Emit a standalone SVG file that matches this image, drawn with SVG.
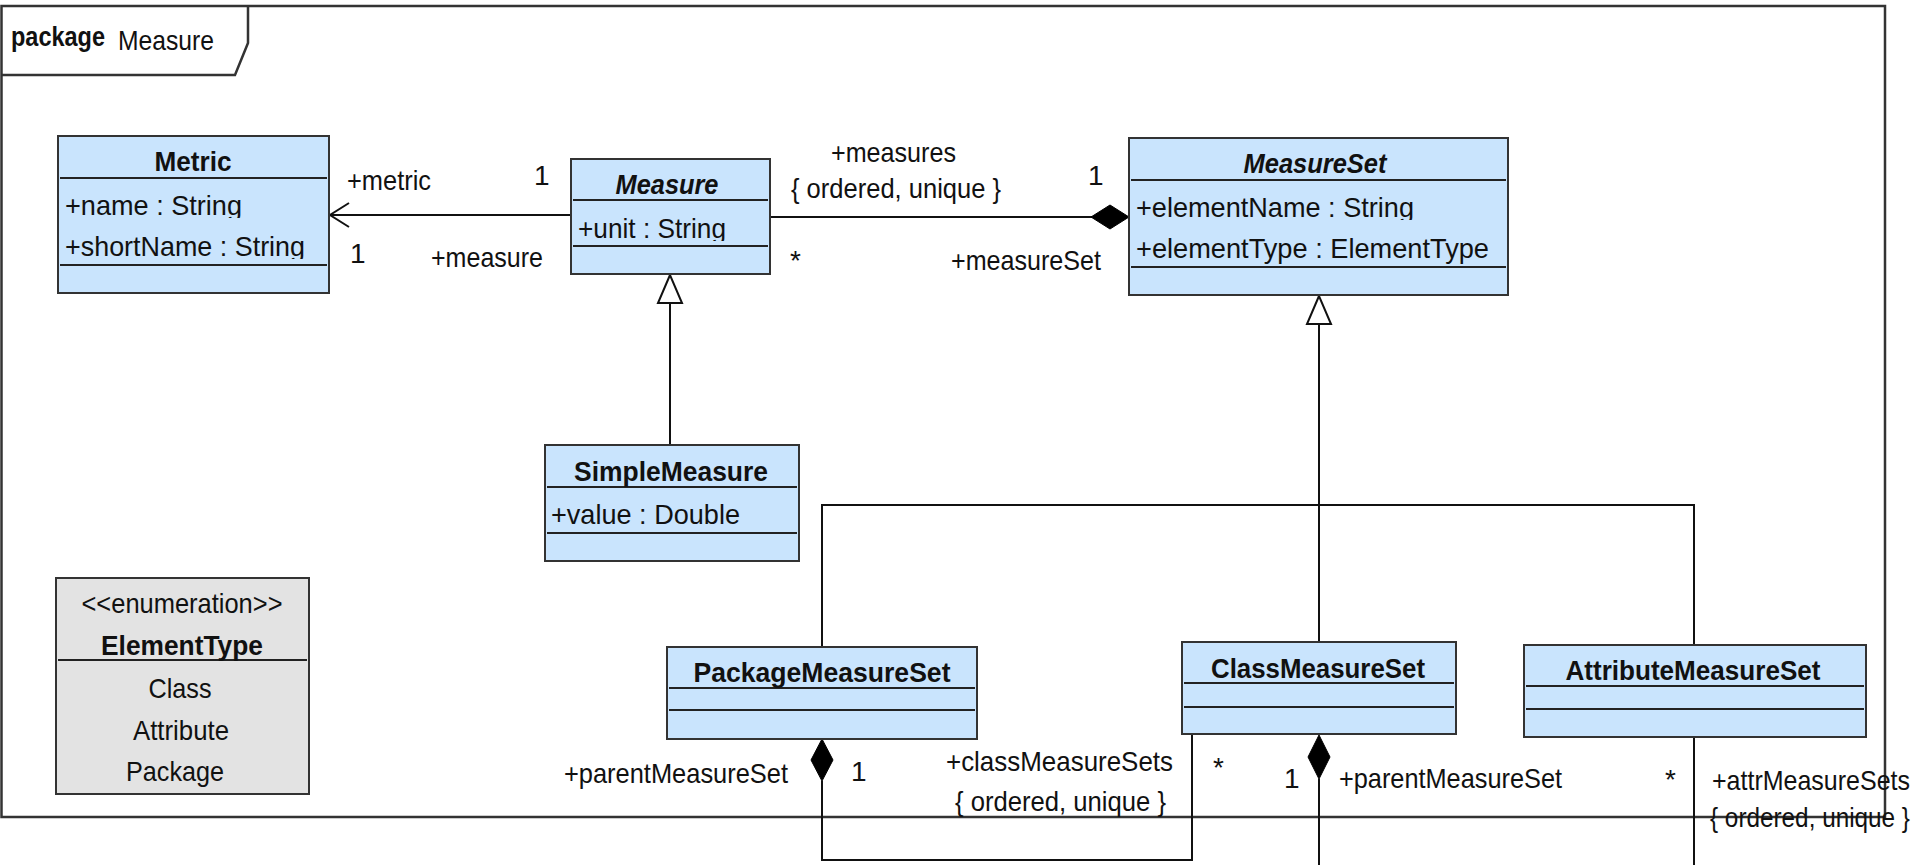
<svg xmlns="http://www.w3.org/2000/svg" width="1920" height="865" viewBox="0 0 1920 865">
  <style>
    .t { font-family: "Liberation Sans", Arial, sans-serif; font-size: 28px; fill: #111; }
    .b { font-weight: bold; }
    .i { font-style: italic; }
    .c { text-anchor: middle; }
    .cls { fill: #c9e4fd; stroke: #333; stroke-width: 2; }
    .enum { fill: #e3e3e3; stroke: #333; stroke-width: 2; }
    .sep { stroke: #222; stroke-width: 2; }
    .ln { stroke: #111; stroke-width: 2; fill: none; }
    .solid { fill: #000; stroke: #000; stroke-width: 1; }
    .hollow { fill: #fff; stroke: #111; stroke-width: 2; }
    .frame { fill: none; stroke: #333; stroke-width: 2.5; }
  </style>
  <defs>
    <!-- compartment rows clip the text at the row bottom -->
    <clipPath id="rowMetric1" clipPathUnits="userSpaceOnUse"><rect x="58" y="180" width="271" height="38"/></clipPath>
    <clipPath id="rowMetric2" clipPathUnits="userSpaceOnUse"><rect x="58" y="221" width="271" height="38"/></clipPath>
    <clipPath id="rowMeasure1" clipPathUnits="userSpaceOnUse"><rect x="571" y="202" width="199" height="39"/></clipPath>
    <clipPath id="rowSet1" clipPathUnits="userSpaceOnUse"><rect x="1129" y="182" width="379" height="38"/></clipPath>
  </defs>

  <rect width="1920" height="865" fill="#fff"/>

  <!-- package frame -->
  <g id="package">
    <rect class="frame" x="1.5" y="6" width="1883.5" height="811"/>
    <path class="frame" d="M1.5,75 H235 L248,43 V6"/>
    <text class="t b" x="11" y="46" font-size="23" textLength="94" lengthAdjust="spacingAndGlyphs">package</text>
    <text class="t" x="118" y="50" textLength="96" lengthAdjust="spacingAndGlyphs">Measure</text>
  </g>

  <!-- connectors -->
  <g id="connectors">
    <!-- Measure -> Metric (navigable association) -->
    <line class="ln" x1="329" y1="215" x2="571" y2="215"/>
    <polyline class="ln" points="349,203 330,215 349,227"/>
    <!-- MeasureSet composition of Measure -->
    <line class="ln" x1="770" y1="217" x2="1092" y2="217"/>
    <polygon class="solid" points="1129,217 1110,205 1091,217 1110,229"/>
    <!-- SimpleMeasure generalization -->
    <line class="ln" x1="670" y1="303" x2="670" y2="445"/>
    <polygon class="hollow" points="670,275 658,303 682,303"/>
    <!-- MeasureSet generalization tree -->
    <line class="ln" x1="1319" y1="324" x2="1319" y2="642"/>
    <polygon class="hollow" points="1319,296 1307,324 1331,324"/>
    <polyline class="ln" points="822,647 822,505 1694,505 1694,645"/>
    <!-- PackageMeasureSet composition of ClassMeasureSet -->
    <polyline class="ln" points="822,781 822,860 1192,860 1192,734"/>
    <polygon class="solid" points="822,739 811,760 822,781 833,760"/>
    <!-- ClassMeasureSet composition of AttributeMeasureSet -->
    <line class="ln" x1="1319" y1="779" x2="1319" y2="865"/>
    <polygon class="solid" points="1319,735 1308,757 1319,779 1330,757"/>
    <line class="ln" x1="1694" y1="737" x2="1694" y2="865"/>

    <!-- end labels -->
    <text class="t" x="347" y="190" textLength="84" lengthAdjust="spacingAndGlyphs">+metric</text>
    <text class="t" x="534" y="185">1</text>
    <text class="t" x="350" y="263">1</text>
    <text class="t" x="431" y="267" textLength="112" lengthAdjust="spacingAndGlyphs">+measure</text>

    <text class="t" x="831" y="162" textLength="125" lengthAdjust="spacingAndGlyphs">+measures</text>
    <text class="t" x="791" y="198" textLength="210" lengthAdjust="spacingAndGlyphs">{ ordered, unique }</text>
    <text class="t" x="1088" y="185">1</text>
    <text class="t" x="790" y="270">*</text>
    <text class="t" x="951" y="270" textLength="150" lengthAdjust="spacingAndGlyphs">+measureSet</text>

    <text class="t" x="564" y="783" textLength="224" lengthAdjust="spacingAndGlyphs">+parentMeasureSet</text>
    <text class="t" x="851" y="781">1</text>
    <text class="t" x="946" y="771" textLength="227" lengthAdjust="spacingAndGlyphs">+classMeasureSets</text>
    <text class="t" x="955" y="811" textLength="211" lengthAdjust="spacingAndGlyphs">{ ordered, unique }</text>
    <text class="t" x="1213" y="777">*</text>

    <text class="t" x="1284" y="788">1</text>
    <text class="t" x="1339" y="788" textLength="223" lengthAdjust="spacingAndGlyphs">+parentMeasureSet</text>
    <text class="t" x="1665" y="789">*</text>
    <text class="t" x="1712" y="790" textLength="198" lengthAdjust="spacingAndGlyphs">+attrMeasureSets</text>
    <text class="t" x="1710" y="827" textLength="200" lengthAdjust="spacingAndGlyphs">{ ordered, unique }</text>
  </g>

  <!-- Metric -->
  <g id="Metric">
    <rect class="cls" x="58" y="136" width="271" height="157"/>
    <line class="sep" x1="60" y1="178" x2="327" y2="178"/>
    <line class="sep" x1="60" y1="265" x2="327" y2="265"/>
    <text class="t b c" x="193" y="171" textLength="77" lengthAdjust="spacingAndGlyphs">Metric</text>
    <text class="t" x="65" y="215" textLength="177" lengthAdjust="spacingAndGlyphs" clip-path="url(#rowMetric1)">+name  : String</text>
    <text class="t" x="65" y="256" textLength="240" lengthAdjust="spacingAndGlyphs" clip-path="url(#rowMetric2)">+shortName  : String</text>
  </g>

  <!-- Measure (abstract) -->
  <g id="Measure">
    <rect class="cls" x="571" y="159" width="199" height="115"/>
    <line class="sep" x1="573" y1="200" x2="768" y2="200"/>
    <line class="sep" x1="573" y1="246" x2="768" y2="246"/>
    <text class="t b i c" x="667" y="194" textLength="103" lengthAdjust="spacingAndGlyphs">Measure</text>
    <text class="t" x="578" y="238" textLength="148" lengthAdjust="spacingAndGlyphs" clip-path="url(#rowMeasure1)">+unit : String</text>
  </g>

  <!-- MeasureSet (abstract) -->
  <g id="MeasureSet">
    <rect class="cls" x="1129" y="138" width="379" height="157"/>
    <line class="sep" x1="1131" y1="180" x2="1506" y2="180"/>
    <line class="sep" x1="1131" y1="267" x2="1506" y2="267"/>
    <text class="t b i c" x="1315" y="173" textLength="143" lengthAdjust="spacingAndGlyphs">MeasureSet</text>
    <text class="t" x="1136" y="217" textLength="278" lengthAdjust="spacingAndGlyphs" clip-path="url(#rowSet1)">+elementName   : String</text>
    <text class="t" x="1136" y="258" textLength="353" lengthAdjust="spacingAndGlyphs">+elementType   : ElementType</text>
  </g>

  <!-- SimpleMeasure -->
  <g id="SimpleMeasure">
    <rect class="cls" x="545" y="445" width="254" height="116"/>
    <line class="sep" x1="547" y1="487" x2="797" y2="487"/>
    <line class="sep" x1="547" y1="533" x2="797" y2="533"/>
    <text class="t b c" x="671" y="481" textLength="194" lengthAdjust="spacingAndGlyphs">SimpleMeasure</text>
    <text class="t" x="551" y="524" textLength="189" lengthAdjust="spacingAndGlyphs">+value  : Double</text>
  </g>

  <!-- ElementType enumeration -->
  <g id="ElementType">
    <rect class="enum" x="56" y="578" width="253" height="216"/>
    <line class="sep" x1="58" y1="660" x2="307" y2="660"/>
    <text class="t c" x="182" y="613" textLength="201" lengthAdjust="spacingAndGlyphs">&lt;&lt;enumeration&gt;&gt;</text>
    <text class="t b c" x="182" y="655" textLength="162" lengthAdjust="spacingAndGlyphs">ElementType</text>
    <text class="t c" x="180" y="698" textLength="63" lengthAdjust="spacingAndGlyphs">Class</text>
    <text class="t c" x="181" y="740" textLength="96" lengthAdjust="spacingAndGlyphs">Attribute</text>
    <text class="t c" x="175" y="781" textLength="98" lengthAdjust="spacingAndGlyphs">Package</text>
  </g>

  <!-- PackageMeasureSet -->
  <g id="PackageMeasureSet">
    <rect class="cls" x="667" y="647" width="310" height="92"/>
    <line class="sep" x1="669" y1="688" x2="975" y2="688"/>
    <line class="sep" x1="669" y1="710" x2="975" y2="710"/>
    <text class="t b c" x="822" y="682" textLength="257" lengthAdjust="spacingAndGlyphs">PackageMeasureSet</text>
  </g>

  <!-- ClassMeasureSet -->
  <g id="ClassMeasureSet">
    <rect class="cls" x="1182" y="642" width="274" height="92"/>
    <line class="sep" x1="1184" y1="683" x2="1454" y2="683"/>
    <line class="sep" x1="1184" y1="707" x2="1454" y2="707"/>
    <text class="t b c" x="1318" y="678" textLength="214" lengthAdjust="spacingAndGlyphs">ClassMeasureSet</text>
  </g>

  <!-- AttributeMeasureSet -->
  <g id="AttributeMeasureSet">
    <rect class="cls" x="1524" y="645" width="342" height="92"/>
    <line class="sep" x1="1526" y1="686" x2="1864" y2="686"/>
    <line class="sep" x1="1526" y1="709" x2="1864" y2="709"/>
    <text class="t b c" x="1693" y="680" textLength="255" lengthAdjust="spacingAndGlyphs">AttributeMeasureSet</text>
  </g>
</svg>
